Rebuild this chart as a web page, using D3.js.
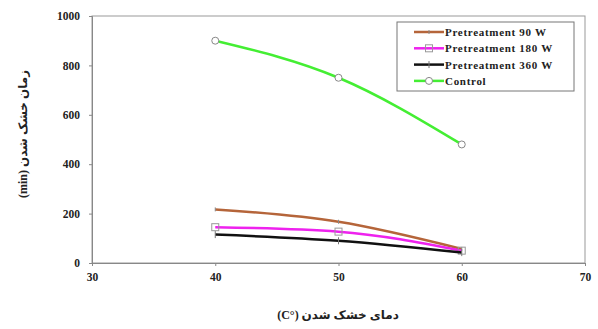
<!DOCTYPE html>
<html lang="en">
<meta charset="utf-8">
<head>
	<title>Drying time</title>
</head>

<style type="text/css">
	body { margin: 0; background: white; }

	.tick text {
		font-family: 'Liberation Serif', 'Times New Roman', serif;
		font-weight: bold;
		font-size: 11.5px;
		fill: #222;
	}

	.axisLabel {
		font-family: 'Liberation Serif', 'DejaVu Sans', serif;
		font-weight: bold;
		font-size: 12px;
		fill: #222;
	}

	.legendText {
		font-family: 'Liberation Serif', 'Times New Roman', serif;
		font-weight: bold;
		font-size: 11px;
		letter-spacing: 0.7px;
		fill: #222;
	}

	.line {
		fill: none;
		stroke-width: 2.5;
	}
</style>

<script src="https://d3js.org/d3.v7.min.js"></script>

<body>
	<script type="text/javascript">

		// data
		var temps = [40, 50, 60];
		var names = ["Pretreatment 90 W", "Pretreatment 180 W", "Pretreatment 360 W", "Control"];
		var p90 = [217, 167, 57];
		var p180 = [145, 127, 50];
		var p360 = [115, 90, 42];
		var control = [900, 750, 480];
		var colours = ["#b5653a", "#ee22ee", "#111111", "#44ee33"];
		var markers = ["dash", "square", "plus", "circle"];
		var xTicks = [30, 40, 50, 60, 70];
		var yTicks = [0, 200, 400, 600, 800, 1000];

		var series = [p90, p180, p360, control];

		var canvasWidth = 598,
			canvasHeight = 329,
			padLeft = 92,
			padRight = 585,
			padTop = 16,
			padBottom = 263;

		var svg = d3.select("body")
					.append("svg")
					.attr("width", canvasWidth)
					.attr("height", canvasHeight);

		var x = d3.scaleLinear().domain([30, 70]).range([padLeft, padRight]);
		var y = d3.scaleLinear().domain([0, 1000]).range([padBottom, padTop]);

		// plot frame
		svg.append("rect")
		   .attr("x", padLeft)
		   .attr("y", padTop)
		   .attr("width", padRight - padLeft)
		   .attr("height", padBottom - padTop)
		   .attr("fill", "none")
		   .attr("stroke", "#999")
		   .attr("stroke-width", 1);

		// axes
		svg.append("g")
		   .attr("transform", "translate(0," + padBottom + ")")
		   .call(d3.axisBottom(x).tickValues(xTicks).tickSize(3).tickPadding(7).tickFormat(d3.format("d")));

		svg.append("g")
		   .attr("transform", "translate(" + padLeft + ",0)")
		   .call(d3.axisLeft(y).tickValues(yTicks).tickSize(3).tickPadding(9).tickFormat(d3.format("d")));

		svg.selectAll(".domain").attr("stroke", "#888");
		svg.selectAll(".tick line").attr("stroke", "#888");

		// axis labels
		svg.append("text")
		   .attr("class", "axisLabel")
		   .attr("text-anchor", "middle")
		   .attr("direction", "rtl")
		   .attr("x", 338)
		   .attr("y", 319)
		   .text("دمای خشک شدن (°C)");

		svg.append("text")
		   .attr("class", "axisLabel")
		   .attr("text-anchor", "middle")
		   .attr("direction", "rtl")
		   .attr("transform", "translate(27,134)rotate(-90)")
		   .text("زمان خشک شدن (min)");

		var line = d3.line()
					 .x(function(d, i) { return x(temps[i]); })
					 .y(function(d) { return y(d); })
					 .curve(d3.curveMonotoneX);

		function drawMarker(g, type, cx, cy) {
			if (type == "circle") {
				g.append("circle").attr("cx", cx).attr("cy", cy).attr("r", 3.5)
				 .attr("fill", "white").attr("stroke", "#888").attr("stroke-width", 1);
			}
			else if (type == "square") {
				g.append("rect").attr("x", cx - 3.5).attr("y", cy - 3.5).attr("width", 7).attr("height", 7)
				 .attr("fill", "none").attr("stroke", "#999").attr("stroke-width", 1);
			}
			else if (type == "plus") {
				g.append("path").attr("d", "M" + cx + "," + (cy - 3.5) + "V" + (cy + 3.5))
				 .attr("stroke", "#777").attr("stroke-width", 1);
			}
			else {
				g.append("path").attr("d", "M" + cx + "," + (cy - 2) + "V" + (cy + 2))
				 .attr("stroke", "#888").attr("stroke-width", 1);
			}
		}

		// lines and markers
		for (var s = 0; s < series.length; s++) {
			var g = svg.append("g");
			g.append("path")
			 .datum(series[s])
			 .attr("class", "line")
			 .attr("stroke", colours[s])
			 .attr("d", line);
			for (var i = 0; i < temps.length; i++) {
				drawMarker(g, markers[s], x(temps[i]), y(series[s][i]));
			}
		}

		// legend
		var legX = 397, legY = 22, legW = 177, legH = 69;
		svg.append("rect")
		   .attr("x", legX)
		   .attr("y", legY)
		   .attr("width", legW)
		   .attr("height", legH)
		   .attr("fill", "white")
		   .attr("stroke", "#777")
		   .attr("stroke-width", 1);

		for (var k = 0; k < names.length; k++) {
			var ly = legY + 10 + k * 16.3;
			var lg = svg.append("g");
			lg.append("line")
			  .attr("x1", legX + 17).attr("x2", legX + 47)
			  .attr("y1", ly).attr("y2", ly)
			  .attr("stroke", colours[k]).attr("stroke-width", 2.5);
			drawMarker(lg, markers[k], legX + 32, ly);
			lg.append("text")
			  .attr("class", "legendText")
			  .attr("x", legX + 48)
			  .attr("y", ly + 4)
			  .text(names[k]);
		}

	</script>
</body>

</html>
